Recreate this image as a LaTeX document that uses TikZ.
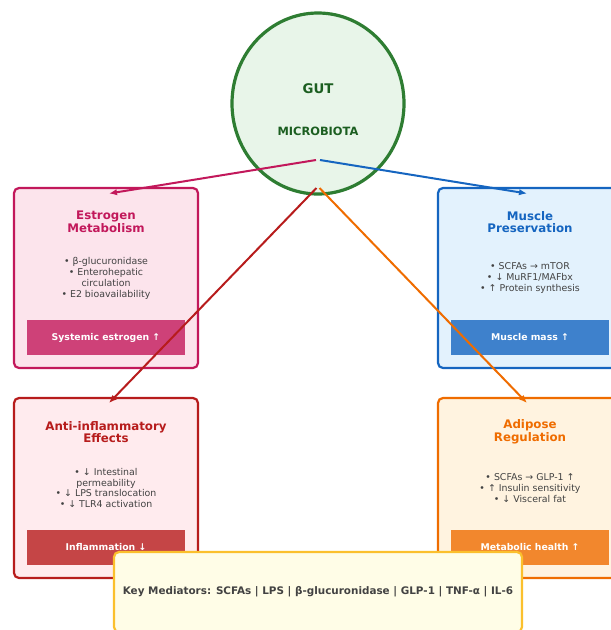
\documentclass[tikz,border=0pt]{standalone}
\usepackage{fontspec}
\setmainfont{DejaVu Sans}
\usetikzlibrary{arrows.meta,shapes.geometric}
\definecolor{gutB}{HTML}{2E7D32}
\definecolor{gutF}{HTML}{E8F5E9}
\definecolor{gutT}{HTML}{1B5E20}
\definecolor{pinkB}{HTML}{C2185B}
\definecolor{pinkF}{HTML}{FCE4EC}
\definecolor{pinkBar}{HTML}{CE4178}
\definecolor{blueB}{HTML}{1565C0}
\definecolor{blueF}{HTML}{E3F2FD}
\definecolor{blueBar}{HTML}{3E81CC}
\definecolor{redB}{HTML}{B71C1C}
\definecolor{redF}{HTML}{FFEBEE}
\definecolor{redBar}{HTML}{C54546}
\definecolor{orB}{HTML}{EF6C00}
\definecolor{orF}{HTML}{FFF3E0}
\definecolor{orBar}{HTML}{F2872D}
\definecolor{keyB}{HTML}{FBC02D}
\definecolor{keyF}{HTML}{FFFDE7}
\definecolor{txt}{HTML}{424242}
\tikzset{
  card/.style={draw=#1, rounded corners=5pt, line width=2.2pt, minimum width=184pt, minimum height=180pt, inner sep=0pt},
  bar/.style={fill=#1, minimum width=158pt, minimum height=35pt, inner sep=0pt, text=white, font=\bfseries\fontsize{9.3}{11}\selectfont},
  ttl/.style={align=center, text=#1, font=\bfseries\fontsize{11.8}{12.8}\selectfont},
  bul/.style={align=center, text=txt, font=\fontsize{9.4}{10.8}\selectfont},
  conn/.style={draw=#1, line width=2pt, -{Latex[length=8pt,width=6.5pt]}},
}
\begin{document}
\begin{tikzpicture}[x=1pt,y=-1pt]
\useasboundingbox (0,0) rectangle (611,630);
\clip (0,0) rectangle (611,630);
% gut
\node[draw=gutB, fill=gutF, line width=3.2pt, ellipse, minimum width=172pt, minimum height=181pt, inner sep=0pt] (gut) at (318,103.5) {};
\node[text=gutT, font=\bfseries\fontsize{13.3}{15}\selectfont] (gutTop) at (318,89) {GUT};
\node[text=gutT, font=\bfseries\fontsize{11.4}{13}\selectfont] (gutBot) at (318,131) {MICROBIOTA};
% cards
\node[card=pinkB, fill=pinkF] (tl) at (106,278) {};
\node[card=blueB, fill=blueF] (tr) at (530,278) {};
\node[card=redB, fill=redF] (bl) at (106,488) {};
\node[card=orB, fill=orF] (br) at (530,488) {};
% titles
\node[ttl=pinkB] (tlT) at (106,222) {Estrogen\\Metabolism};
\node[ttl=blueB] (trT) at (530,222) {Muscle\\Preservation};
\node[ttl=redB] (blT) at (106,432) {Anti-inflammatory\\Effects};
\node[ttl=orB] (brT) at (530,432) {Adipose\\Regulation};
% bullets
\node[bul] (tlB) at (106,278.5) {• β-glucuronidase\\• Enterohepatic\\circulation\\• E2 bioavailability};
\node[bul] (trB) at (530,278) {• SCFAs → mTOR\\• ↓ MuRF1/MAFbx\\• ↑ Protein synthesis};
\node[bul] (blB) at (106,488) {• ↓ Intestinal\\permeability\\• ↓ LPS translocation\\• ↓ TLR4 activation};
\node[bul] (brB) at (530,488) {• SCFAs → GLP-1 ↑\\• ↑ Insulin sensitivity\\• ↓ Visceral fat};
% bars
\node[bar=pinkBar] (tlR) at (106,337.5) {Systemic estrogen ↑};
\node[bar=blueBar] (trR) at (530,337.5) {Muscle mass ↑};
\node[bar=redBar] (blR) at (106,547.5) {Inflammation ↓};
\node[bar=orBar] (brR) at (530,547.5) {Metabolic health ↑};
% connectors
\coordinate (sL) at (316,160);
\coordinate (sR) at (320,160);
\coordinate (sBL) at (316.5,188);
\coordinate (sBR) at (319.5,188);
\coordinate (eTL) at (109,193.5);
\coordinate (eTR) at (527,193.5);
\coordinate (eBL) at (109,403);
\coordinate (eBR) at (527,403);
\draw[conn=pinkB] (sL) -- (eTL);
\draw[conn=blueB] (sR) -- (eTR);
\draw[conn=redB] (sBL) -- (eBL);
\draw[conn=orB] (sBR) -- (eBR);
% key
\node[draw=keyB, fill=keyF, line width=2.2pt, rounded corners=5pt, minimum width=408pt, minimum height=80pt, inner sep=0pt, text=txt, font=\bfseries\fontsize{10.4}{12}\selectfont] (key) at (318,592) {Key Mediators: SCFAs | LPS | β-glucuronidase | GLP-1 | TNF-α | IL-6};
\end{tikzpicture}
\end{document}
